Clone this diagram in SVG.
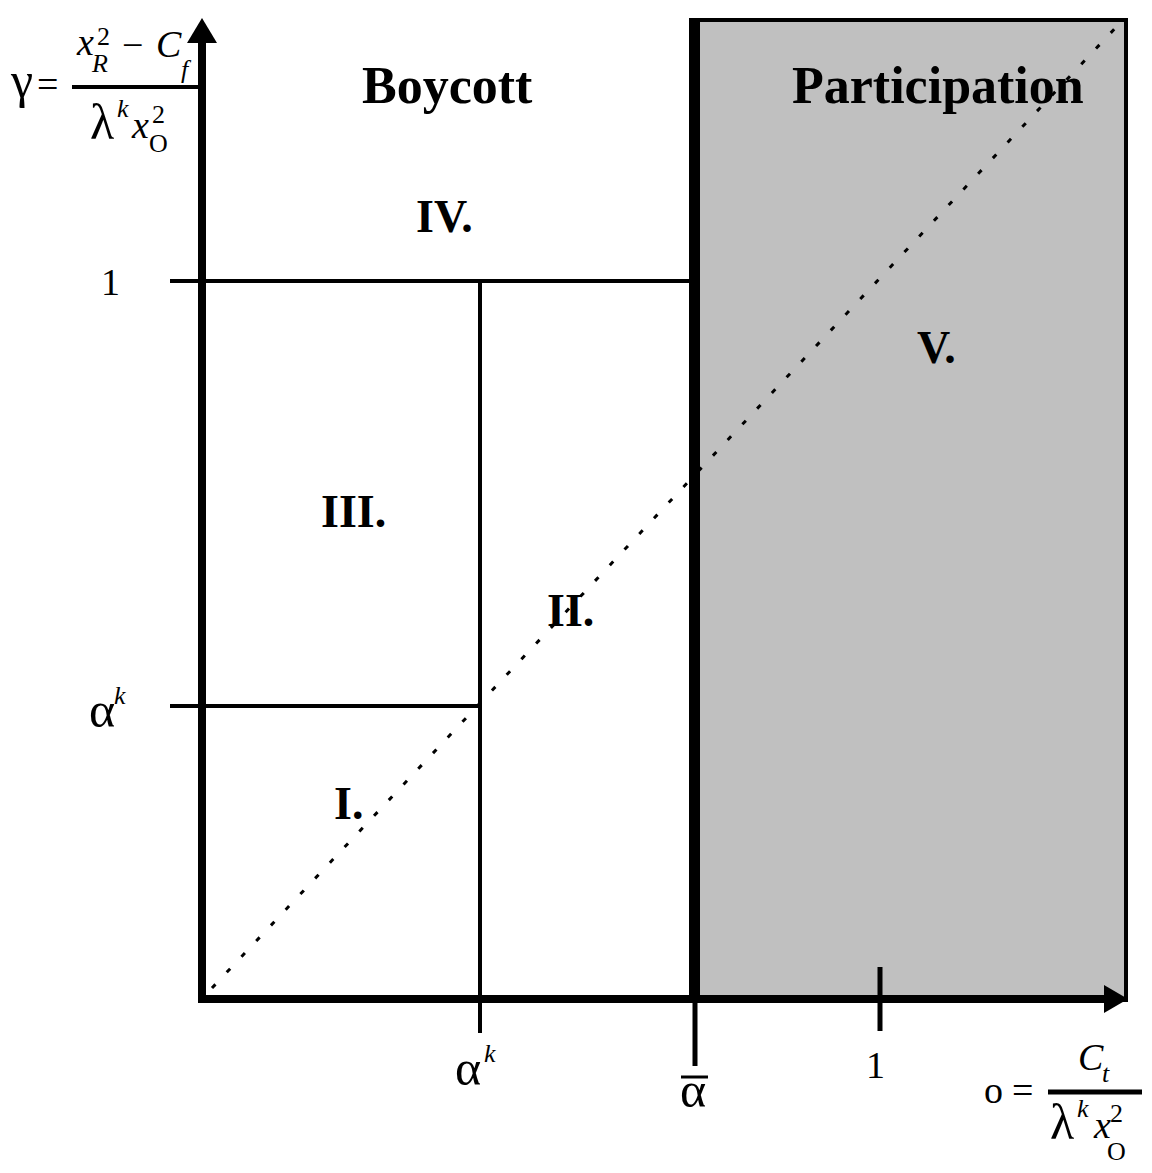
<svg xmlns="http://www.w3.org/2000/svg" width="1152" height="1173" viewBox="0 0 1152 1173">
<style>
text{font-family:"Liberation Serif","Times New Roman",serif;fill:#000}
.h{font-weight:bold;font-size:52px}
.r{font-weight:bold;font-size:46px}
.m{font-size:38px}
.g{font-size:50px}
.s{font-size:26px}
.i{font-style:italic}
.ln{stroke:#000;fill:none}
</style>
<rect width="1152" height="1173" fill="#fff"/>
<g id="participation-region">
<rect x="694" y="20" width="432" height="980" fill="#c0c0c0" stroke="#000" stroke-width="4"/>
</g>
<g id="connectors">
<line class="ln" x1="212" y1="988" x2="1120" y2="23" stroke-width="3" stroke-dasharray="5 16.5"/>
<line class="ln" x1="170" y1="281" x2="694" y2="281" stroke-width="4"/>
<line class="ln" x1="170" y1="706" x2="480" y2="706" stroke-width="4"/>
<line class="ln" x1="480" y1="281" x2="480" y2="1033" stroke-width="4"/>
<line class="ln" x1="694.5" y1="18" x2="694.5" y2="1000" stroke-width="11"/>
<line class="ln" x1="695" y1="1000" x2="695" y2="1066" stroke-width="5"/>
<line class="ln" x1="880" y1="967" x2="880" y2="1031" stroke-width="5"/>
<line class="ln" x1="202" y1="1003" x2="202" y2="38" stroke-width="8"/>
<polygon points="202,18 187,43 217,43" fill="#000"/>
<line class="ln" x1="198" y1="999" x2="1108" y2="999" stroke-width="8"/>
<polygon points="1128,999 1104,985 1104,1013" fill="#000"/>
<line class="ln" x1="72" y1="87" x2="203" y2="87" stroke-width="4"/>
<line class="ln" x1="1048" y1="1092" x2="1142" y2="1092" stroke-width="5"/>
<line class="ln" x1="681" y1="1077" x2="708" y2="1077" stroke-width="3"/>
</g>
<g id="labels">
<text class="h" x="362" y="103">Boycott</text>
<text class="h" x="792" y="103">Participation</text>
<text class="r" x="416" y="232">IV.</text>
<text class="r" x="321" y="527">III.</text>
<text class="r" x="547" y="626">II.</text>
<text class="r" x="334" y="819">I.</text>
<text class="r" x="917" y="363">V.</text>
</g>
<g id="y-axis-labels">
<text class="m" x="101" y="295">1</text>
<text class="g" x="89" y="727">α</text>
<text class="s i" x="114" y="704">k</text>
<text class="g" x="11" y="97">γ</text>
<text class="m" x="37" y="97">=</text>
<text class="m i" x="77" y="55">x</text>
<text class="s" x="97" y="45">2</text>
<text class="s i" x="92" y="72">R</text>
<text class="m" x="122" y="58">−</text>
<text class="m i" x="156" y="57">C</text>
<text class="s i" x="181" y="78">f</text>
<text class="g" x="90" y="139">λ</text>
<text class="s i" x="117" y="117">k</text>
<text class="m i" x="132" y="138">x</text>
<text class="s" x="152" y="123">2</text>
<text class="s" x="149" y="152">O</text>
</g>
<g id="x-axis-labels">
<text class="g" x="455" y="1085">α</text>
<text class="s i" x="484" y="1062">k</text>
<text class="g" x="680" y="1107">α</text>
<text class="m" x="866" y="1078">1</text>
<text class="m" x="984" y="1103">o</text>
<text class="m" x="1012" y="1103">=</text>
<text class="m i" x="1078" y="1070">C</text>
<text class="s i" x="1102" y="1082">t</text>
<text class="g" x="1050" y="1139">λ</text>
<text class="s i" x="1077" y="1117">k</text>
<text class="m i" x="1094" y="1138">x</text>
<text class="s" x="1110" y="1122">2</text>
<text class="s" x="1107" y="1160">O</text>
</g>
</svg>
